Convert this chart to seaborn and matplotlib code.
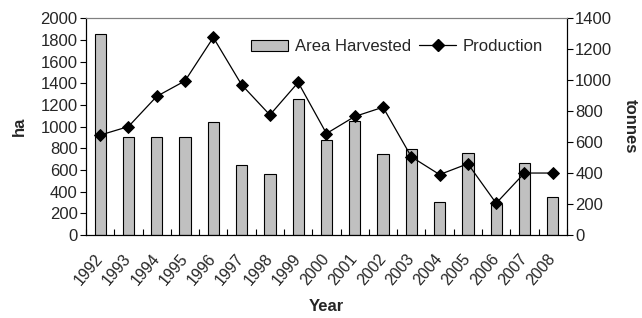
import numpy as np
import matplotlib
matplotlib.use("Agg")
import matplotlib.pyplot as plt
from matplotlib.patches import Patch
from matplotlib.lines import Line2D
import seaborn as sns

# Data
years = ['1992', '1993', '1994', '1995', '1996', '1997', '1998', '1999', '2000',
         '2001', '2002', '2003', '2004', '2005', '2006', '2007', '2008']
area_ha = [1850, 900, 900, 900, 1040, 650, 560, 1250, 880,
           1050, 745, 790, 300, 755, 285, 660, 355]
production_t = [645, 700, 895, 995, 1275, 970, 775, 985, 655,
                765, 825, 505, 390, 460, 205, 400, 400]

sns.set_style("white")
plt.rcParams['font.family'] = ['Liberation Sans', 'DejaVu Sans']
plt.rcParams['font.size'] = 12

fig, ax = plt.subplots(figsize=(6.42, 3.18), dpi=100)
fig.subplots_adjust(left=0.134, right=0.883, top=0.943, bottom=0.261)

# Bars on the left axis
sns.barplot(x=years, y=area_ha, ax=ax, color='#c0c0c0', edgecolor='black',
            linewidth=0.8, width=0.4, saturation=1)
ax.set_ylim(0, 2000)
ax.set_yticks(np.arange(0, 2001, 200))
ax.set_xlim(-0.5, len(years) - 0.5)
ax.set_ylabel('ha', fontweight='bold', labelpad=10)
ax.set_xlabel('Year', fontweight='bold', labelpad=8)

# Production line on the right axis
ax2 = ax.twinx()
sns.pointplot(x=years, y=production_t, ax=ax2, color='black', markers='D',
              linewidth=0.9, markersize=6)
ax2.set_ylim(0, 1400)
ax2.set_yticks(np.arange(0, 1401, 200))
ax2.set_xlim(-0.5, len(years) - 0.5)
ax2.set_ylabel('tonnes', fontweight='bold', rotation=270, labelpad=18)

# Ticks: x labels rotated, tick marks between categories
ax.set_xticks(np.arange(len(years)))
ax.set_xticklabels(years, rotation=50, ha='right', va='center',
                   rotation_mode='anchor', fontsize=11.5)
ax.tick_params(axis='x', which='major', length=0, pad=15)
ax.set_xticks(np.arange(-0.5, len(years), 1), minor=True)
ax.tick_params(axis='x', which='minor', direction='in', length=4, width=0.8,
               color='black', bottom=True)
ax.tick_params(axis='y', direction='out', length=4, width=0.8, color='black', left=True, pad=2)
ax2.tick_params(axis='y', direction='out', length=4, width=0.8, color='black', right=True, pad=2)
ax2.tick_params(axis='x', length=0)

for a in (ax, ax2):
    for s in a.spines.values():
        s.set_visible(True)
        s.set_color('black')
        s.set_linewidth(0.8)
ax.spines['top'].set_color('#808080')
ax2.spines['top'].set_color('#808080')

handles = [Patch(facecolor='#c0c0c0', edgecolor='black', linewidth=0.8),
           Line2D([], [], color='black', marker='D', markersize=6, linewidth=0.9)]
ax2.legend(handles, ['Area Harvested', 'Production'], ncol=2, frameon=False,
           loc='center right', bbox_to_anchor=(0.95, 0.868), borderaxespad=0,
           borderpad=0, handlelength=2.2, columnspacing=0.5, handletextpad=0.4)

fig.savefig('out.png', dpi=100)
